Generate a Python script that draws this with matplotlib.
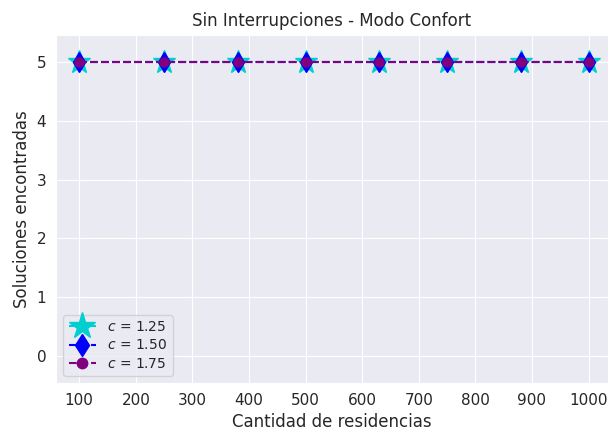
import numpy as np
import matplotlib
matplotlib.use('Agg')
import matplotlib.pyplot as plt
import seaborn as sns

# --- Data:

residencias = [100, 250, 380, 500, 630, 750, 880, 1000]
sol_c125 = [5, 5, 5, 5, 5, 5, 5, 5]
sol_c150 = [5, 5, 5, 5, 5, 5, 5, 5]
sol_c175 = [5, 5, 5, 5, 5, 5, 5, 5]

# --- Plotting:

sns.set_style('darkgrid')
plt.rcParams['font.family'] = ['DejaVu Sans']

fig = plt.figure(figsize=(6.09, 4.30), dpi=100)
ax = fig.add_axes([0.092, 0.109, 0.906, 0.810])

ax.plot(residencias, sol_c125, '--', color='darkturquoise', marker='*', markersize=17, lw=1.5,
        label='$c$ = 1.25')
ax.plot(residencias, sol_c150, '--', color='blue', marker='d', markersize=10, lw=1.5,
        label='$c$ = 1.50')
ax.plot(residencias, sol_c175, '--', color='purple', marker='o', markersize=6.5, lw=1.5,
        label='$c$ = 1.75')

ax.set_xlim(59, 1034)
ax.set_ylim(-0.46, 5.46)
ax.set_xticks(np.arange(100, 1001, 100))
ax.set_yticks(range(0, 6))
ax.tick_params(labelsize=11)

ax.set_title('Sin Interrupciones - Modo Confort', fontsize=12)
ax.set_xlabel('Cantidad de residencias', fontsize=12)
ax.set_ylabel('Soluciones encontradas', fontsize=12)
ax.legend(loc='lower left', fontsize=10, markerscale=1.15, labelspacing=0.3)

fig.savefig('out.png', dpi=100)
